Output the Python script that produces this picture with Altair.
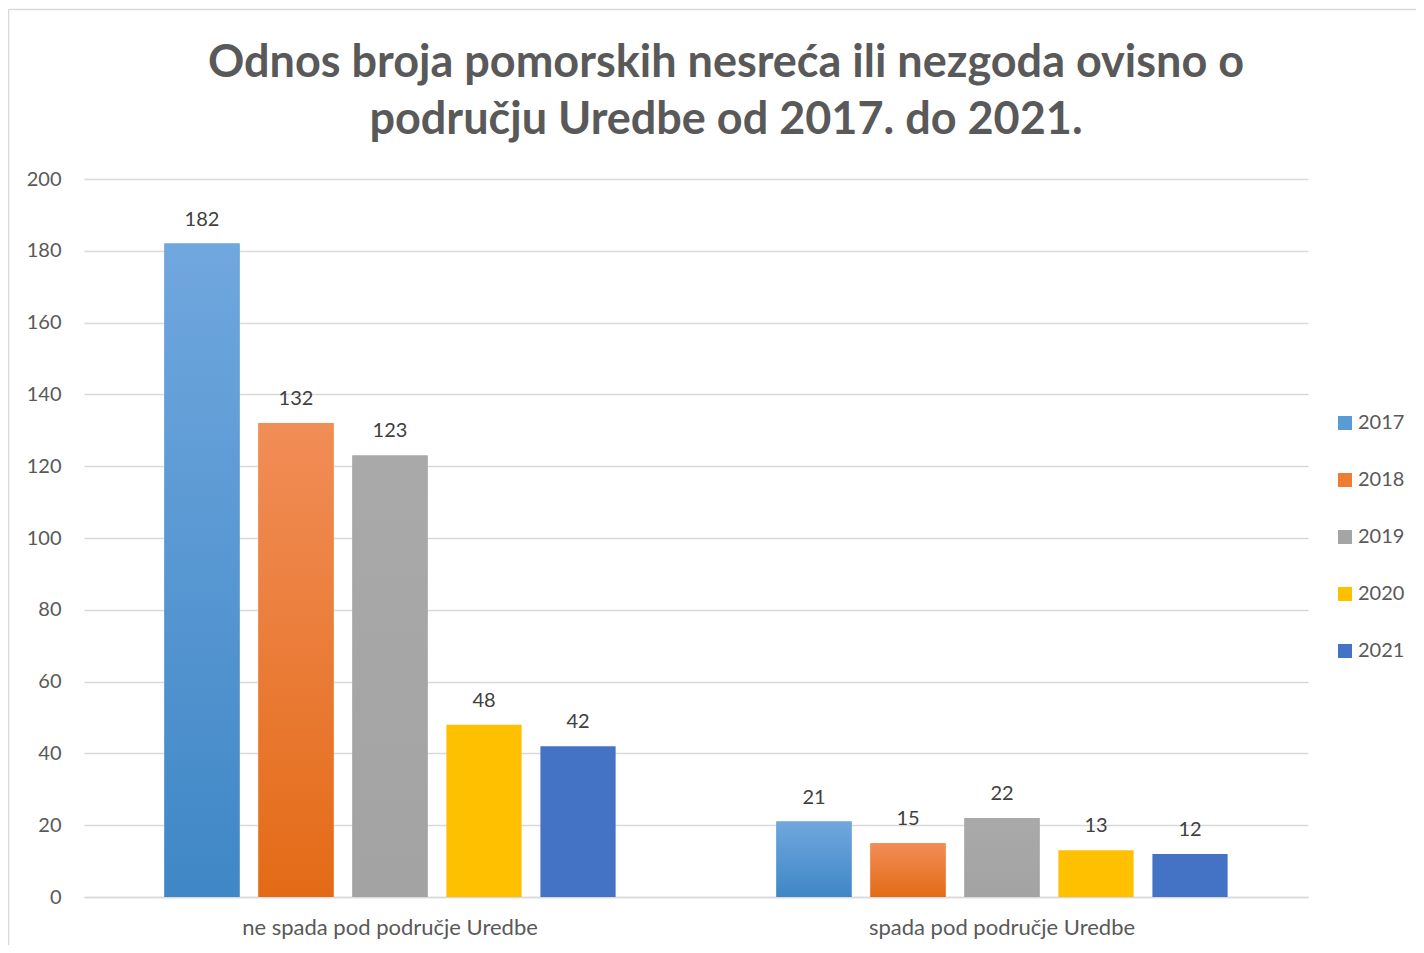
import altair as alt
import pandas as pd

# ---- data ----
categories = ["ne spada pod područje Uredbe", "spada pod područje Uredbe"]
years = ["2017", "2018", "2019", "2020", "2021"]
values_ne_spada = [182, 132, 123, 48, 42]
values_spada = [21, 15, 22, 13, 12]
y_ticks = [0, 20, 40, 60, 80, 100, 120, 140, 160, 180, 200]
title_lines = ["Odnos broja pomorskih nesreća ili nezgoda ovisno o",
               "području Uredbe od 2017. do 2021."]

colors = ["#5b9bd5", "#ed7d31", "#a5a5a5", "#ffc000", "#4472c4"]
gradients = {
    "2017": ("#70a7de", "#3f87c6"),
    "2018": ("#f18d57", "#e36b17"),
    "2019": ("#a9a9a9", "#a3a3a3"),
}

rows = []
for cat, vals in zip(categories, [values_ne_spada, values_spada]):
    for yr, v in zip(years, vals):
        rows.append({"cat": cat, "year": yr, "value": v})
df = pd.DataFrame(rows)

FONT = "Lato"
W, H = 1224, 718

x_enc = alt.X("cat:N", sort=categories,
              scale=alt.Scale(paddingInner=0, paddingOuter=0),
              axis=alt.Axis(title=None, labelAngle=0, ticks=False,
                            domainColor="#d9d9d9", domainWidth=1.5,
                            labelFont=FONT, labelFontSize=22, labelLimit=0,
                            labelColor="#595959", labelPadding=20))
xo_enc = alt.XOffset("year:N", sort=years,
                     scale=alt.Scale(paddingInner=0.2, paddingOuter=0.855))
y_enc = alt.Y("value:Q",
              scale=alt.Scale(domain=[0, 200], nice=False),
              axis=alt.Axis(title=None, values=y_ticks, ticks=False, domain=False,
                            gridColor="#d9d9d9", gridWidth=1.5,
                            labelFont=FONT, labelFontSize=20,
                            labelColor="#595959", labelPadding=23))

base = alt.Chart(df)

bars = base.mark_bar().encode(
    x=x_enc, xOffset=xo_enc, y=y_enc,
    color=alt.Color("year:N", sort=years,
                    scale=alt.Scale(domain=years, range=colors),
                    legend=alt.Legend(orient="none", legendX=1251, legendY=234,
                                      title=None, symbolType="square",
                                      symbolSize=196, symbolStrokeWidth=0,
                                      labelFont=FONT, labelFontSize=20,
                                      labelColor="#595959", rowPadding=37,
                                      labelOffset=3, padding=0)),
)

layers = [bars]
for yr, (c_top, c_bot) in gradients.items():
    grad = alt.Gradient(gradient="linear",
                        stops=[alt.GradientStop(color=c_top, offset=0),
                               alt.GradientStop(color=c_bot, offset=1)],
                        x1=0, x2=0, y1=0, y2=1)
    layers.append(
        base.transform_filter(alt.datum.year == yr)
        .mark_bar(fill=grad)
        .encode(x=x_enc, xOffset=xo_enc, y=y_enc)
    )

labels = base.mark_text(baseline="alphabetic", dy=-18, font=FONT,
                        fontSize=20, color="#404040").encode(
    x=x_enc, xOffset=xo_enc, y=y_enc, text="value:Q")
layers.append(labels)

frame_data = alt.Data(values=[{"k": 1}])
left_edge = alt.Chart(frame_data).mark_rule(color="#d9d9d9", strokeWidth=1.5).encode(
    x=alt.value(-75.5), y=alt.value(-169.5), y2=alt.value(H + 60))
top_edge = alt.Chart(frame_data).mark_rule(color="#d9d9d9", strokeWidth=1.5).encode(
    x=alt.value(-75.5), x2=alt.value(W + 130), y=alt.value(-169.5))
layers += [left_edge, top_edge]

chart = alt.layer(*layers).properties(
    width=W, height=H,
    background="white",
    autosize=alt.AutoSizeParams(type="none"),
    padding={"left": 76, "top": 171, "right": 108, "bottom": 48},
    title=alt.TitleParams(text=title_lines, font=FONT, fontSize=45,
                          fontWeight="bold", color="#595959", frame="group",
                          anchor="middle", dx=30, offset=-134, lineHeight=57),
).configure_view(stroke=None)

chart.save("out.html", embed_options={"renderer": "svg", "actions": False})
